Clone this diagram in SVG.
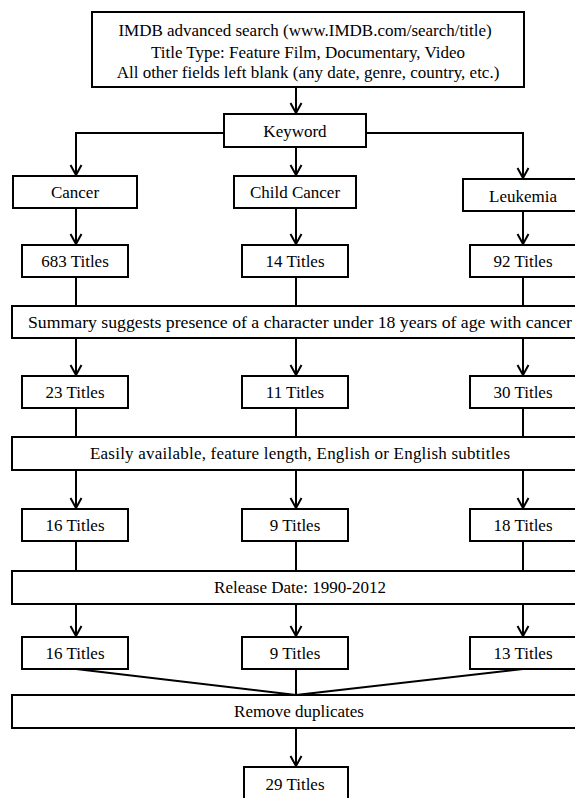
<svg xmlns="http://www.w3.org/2000/svg" width="575" height="798" viewBox="0 0 575 798">
<style>
.box{fill:#fff;stroke:#000;stroke-width:2}
.t{font-family:"Liberation Serif","Times New Roman",serif;font-size:17px;fill:#000;text-anchor:middle}
.c{fill:none;stroke:#000;stroke-width:2}
</style>
<defs>
<marker id="ah" viewBox="-11 -7 13 14" refX="0" refY="0" markerWidth="13" markerHeight="14" orient="auto" markerUnits="userSpaceOnUse">
<path d="M-10,-5.5 L0,0 L-10,5.5" fill="none" stroke="#000" stroke-width="2"/>
</marker>
</defs>
<rect width="575" height="798" fill="#fff"/>
<g id="connectors">
<path class="c" d="M296,87 V113" marker-end="url(#ah)"/>
<path class="c" d="M224,133 H76 V175" marker-end="url(#ah)"/>
<path class="c" d="M366,133 H523 V178" marker-end="url(#ah)"/>
<path class="c" d="M296,147 V175" marker-end="url(#ah)"/>
<path class="c" d="M76,208 V244" marker-end="url(#ah)"/>
<path class="c" d="M296,208 V244" marker-end="url(#ah)"/>
<path class="c" d="M523,211 V244" marker-end="url(#ah)"/>
<path class="c" d="M76,277 V306 M296,277 V306 M523,277 V306"/>
<path class="c" d="M76,338 V375" marker-end="url(#ah)"/>
<path class="c" d="M296,338 V375" marker-end="url(#ah)"/>
<path class="c" d="M523,338 V375" marker-end="url(#ah)"/>
<path class="c" d="M76,408 V437 M296,408 V437 M523,408 V437"/>
<path class="c" d="M76,470 V508" marker-end="url(#ah)"/>
<path class="c" d="M296,470 V508" marker-end="url(#ah)"/>
<path class="c" d="M523,470 V508" marker-end="url(#ah)"/>
<path class="c" d="M76,541 V571 M296,541 V571 M523,541 V571"/>
<path class="c" d="M76,604 V636" marker-end="url(#ah)"/>
<path class="c" d="M296,604 V636" marker-end="url(#ah)"/>
<path class="c" d="M523,604 V636" marker-end="url(#ah)"/>
<path class="c" d="M76,669 L296,695 M296,669 V695 M523,669 L296,695"/>
<path class="c" d="M296,728 V766" marker-end="url(#ah)"/>
</g>
<g id="n-search">
<rect class="box" x="92" y="12" width="432" height="75"/>
<text class="t" x="305" y="36">IMDB advanced search (www.IMDB.com/search/title)</text>
<text class="t" x="308" y="58">Title Type: Feature Film,  Documentary, Video</text>
<text class="t" x="308" y="78">All other fields left blank (any date, genre, country, etc.)</text>
</g>
<g id="n-keyword">
<rect class="box" x="224" y="114" width="142" height="33"/>
<text class="t" x="295" y="137">Keyword</text>
</g>
<g id="n-cancer">
<rect class="box" x="13" y="176" width="124" height="32"/>
<text class="t" x="75" y="198">Cancer</text>
</g>
<g id="n-childcancer">
<rect class="box" x="234" y="176" width="122" height="32"/>
<text class="t" x="295" y="198">Child Cancer</text>
</g>
<g id="n-leukemia">
<rect class="box" x="463" y="179" width="116" height="32"/>
<text class="t" x="523" y="202">Leukemia</text>
</g>
<g id="n-r1a"><rect class="box" x="22" y="245" width="106" height="32"/><text class="t" x="75" y="267">683 Titles</text></g>
<g id="n-r1b"><rect class="box" x="242" y="245" width="106" height="32"/><text class="t" x="295" y="267">14 Titles</text></g>
<g id="n-r1c"><rect class="box" x="470" y="245" width="109" height="32"/><text class="t" x="523" y="267">92 Titles</text></g>
<g id="n-summary">
<rect class="box" x="12" y="306" width="567" height="32"/>
<text class="t" x="300" y="328" textLength="544" lengthAdjust="spacingAndGlyphs">Summary suggests presence of a character under 18 years of age with  cancer</text>
</g>
<g id="n-r2a"><rect class="box" x="22" y="376" width="106" height="32"/><text class="t" x="75" y="398">23 Titles</text></g>
<g id="n-r2b"><rect class="box" x="242" y="376" width="106" height="32"/><text class="t" x="295" y="398">11 Titles</text></g>
<g id="n-r2c"><rect class="box" x="470" y="376" width="109" height="32"/><text class="t" x="523" y="398">30 Titles</text></g>
<g id="n-easily">
<rect class="box" x="12" y="437" width="567" height="33"/>
<text class="t" x="300" y="459" textLength="420" lengthAdjust="spacing">Easily available, feature length,  English  or English  subtitles</text>
</g>
<g id="n-r3a"><rect class="box" x="22" y="509" width="106" height="32"/><text class="t" x="75" y="531">16 Titles</text></g>
<g id="n-r3b"><rect class="box" x="242" y="509" width="106" height="32"/><text class="t" x="295" y="531">9 Titles</text></g>
<g id="n-r3c"><rect class="box" x="470" y="509" width="109" height="32"/><text class="t" x="523" y="531">18 Titles</text></g>
<g id="n-release">
<rect class="box" x="12" y="571" width="567" height="33"/>
<text class="t" x="300" y="593">Release Date: 1990-2012</text>
</g>
<g id="n-r4a"><rect class="box" x="22" y="637" width="106" height="32"/><text class="t" x="75" y="659">16 Titles</text></g>
<g id="n-r4b"><rect class="box" x="242" y="637" width="106" height="32"/><text class="t" x="295" y="659">9 Titles</text></g>
<g id="n-r4c"><rect class="box" x="470" y="637" width="109" height="32"/><text class="t" x="523" y="659">13 Titles</text></g>
<g id="n-remove">
<rect class="box" x="12" y="695" width="567" height="33"/>
<text class="t" x="299" y="717">Remove duplicates</text>
</g>
<g id="n-final">
<rect class="box" x="244" y="767" width="104" height="40"/>
<text class="t" x="295" y="790">29 Titles</text>
</g>
</svg>
